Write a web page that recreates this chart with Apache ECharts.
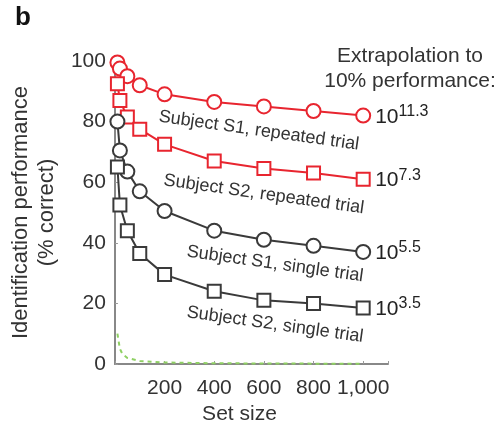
<!DOCTYPE html>
<html>
<head>
<meta charset="utf-8">
<script src="https://cdn.jsdelivr.net/npm/echarts@6/dist/echarts.min.js"></script>
<style>
  html, body { margin: 0; padding: 0; background: #fff; }
  #chart { width: 500px; height: 430px; }
</style>
</head>
<body>
<div id="chart"></div>
<script>
// set sizes
const setSizes = [10, 20, 50, 100, 200, 400, 600, 800, 1000];
// % correct per curve
const s1Repeated = [99.5, 97.5, 95, 92, 89, 86.5, 85, 83.5, 82];
const s2Repeated = [92.5, 87, 81.5, 77.5, 72.5, 67, 64.5, 63, 61];
const s1Single = [80, 70.5, 63.5, 57, 50.5, 44, 41, 39, 37];
const s2Single = [65, 52.5, 44, 36.5, 29.5, 24, 21, 20, 18.5];
// chance level
const chanceX = [10, 20, 30, 50, 100, 200, 400, 600, 800, 1000];
const chanceY = [10, 5, 3.3, 2, 1, 0.5, 0.25, 0.17, 0.12, 0.1];
// extrapolation exponents
const extrap = ['11.3', '7.3', '5.5', '3.5'];
// curve captions and where they sit (data units)
const captions = ['Subject S1, repeated trial', 'Subject S2, repeated trial', 'Subject S1, single trial', 'Subject S2, single trial'];
const captionAt = [[580, 77], [600, 56], [645, 33], [645, 13]];

const font = 'Liberation Sans, Arial, sans-serif';
const red = '#e8252f';
const dark = '#3a3a3a';

function pairs(xs, ys) {
  return xs.map((x, i) => [x, ys[i]]);
}

function curve(name, ys, color, symbol, idx) {
  return {
    name: name,
    type: 'line',
    data: pairs(setSizes, ys),
    symbol: symbol,
    symbolSize: symbol === 'circle' ? 14 : 13,
    showAllSymbol: true,
    lineStyle: { color: color, width: 2 },
    itemStyle: { color: '#fff', borderColor: color, borderWidth: 2 },
    z: 3,
    endLabel: {
      show: true,
      distance: 12,
      color: '#222',
      fontFamily: font,
      formatter: '{a|10}{b|' + extrap[idx] + '}',
      rich: {
        a: { fontSize: 21, fontFamily: font, color: '#222', verticalAlign: 'bottom', lineHeight: 24 },
        b: { fontSize: 16, fontFamily: font, color: '#222', verticalAlign: 'top', lineHeight: 24, padding: [0, 0, 12, 0] }
      }
    },
    markPoint: {
      symbol: 'circle',
      symbolSize: 0,
      silent: true,
      data: [{ coord: captionAt[idx], value: captions[idx] }],
      label: {
        show: true,
        position: 'inside',
        formatter: captions[idx],
        rotate: -8,
        color: '#333',
        fontSize: 18,
        fontFamily: font
      }
    }
  };
}

const chart = echarts.init(document.getElementById('chart'));
chart.setOption({
  animation: false,
  backgroundColor: '#fff',
  title: [
    {
      text: 'b',
      left: 10,
      top: 0,
      textStyle: { fontSize: 26, fontWeight: 'bold', color: '#111', fontFamily: font }
    },
    {
      text: 'Extrapolation to\n10% performance:',
      left: 405,
      top: 39,
      textAlign: 'center',
      textStyle: { fontSize: 21, fontWeight: 'normal', color: '#333', fontFamily: font, lineHeight: 25 }
    }
  ],
  grid: { left: 106, top: 61, width: 282, height: 305 },
  xAxis: {
    type: 'value',
    min: 0,
    max: 1100,
    interval: 200,
    name: 'Set size',
    nameLocation: 'middle',
    nameGap: 40,
    nameTextStyle: { fontSize: 21, color: '#333', fontFamily: font, padding: [0, 24, 0, 0] },
    axisLine: { lineStyle: { color: '#888', width: 2 } },
    axisTick: { show: true, inside: true, length: 3, lineStyle: { color: '#999' } },
    splitLine: { show: false },
    axisLabel: {
      fontSize: 21,
      color: '#333',
      fontFamily: font,
      margin: 14,
      formatter: v => (v === 0 || v > 1000) ? '' : v.toLocaleString('en-US')
    }
  },
  yAxis: {
    type: 'value',
    min: 0,
    max: 100,
    interval: 20,
    name: 'Identification performance\n(% correct)',
    nameLocation: 'middle',
    nameGap: 49,
    nameTextStyle: { fontSize: 22, color: '#333', fontFamily: font, lineHeight: 26 },
    axisLine: { show: true, lineStyle: { color: '#888', width: 2 } },
    axisTick: { show: true, inside: true, length: 3, lineStyle: { color: '#999' } },
    splitLine: { show: false },
    axisLabel: { fontSize: 21, color: '#333', fontFamily: font, margin: 9 }
  },
  series: [
    {
      name: 'chance',
      type: 'line',
      data: pairs(chanceX, chanceY),
      symbol: 'none',
      lineStyle: { color: '#8fd063', width: 2, type: [4, 4] },
      z: 1
    },
    curve('S1 repeated', s1Repeated, red, 'circle', 0),
    curve('S2 repeated', s2Repeated, red, 'rect', 1),
    curve('S1 single', s1Single, dark, 'circle', 2),
    curve('S2 single', s2Single, dark, 'rect', 3)
  ]
});
</script>
</body>
</html>
